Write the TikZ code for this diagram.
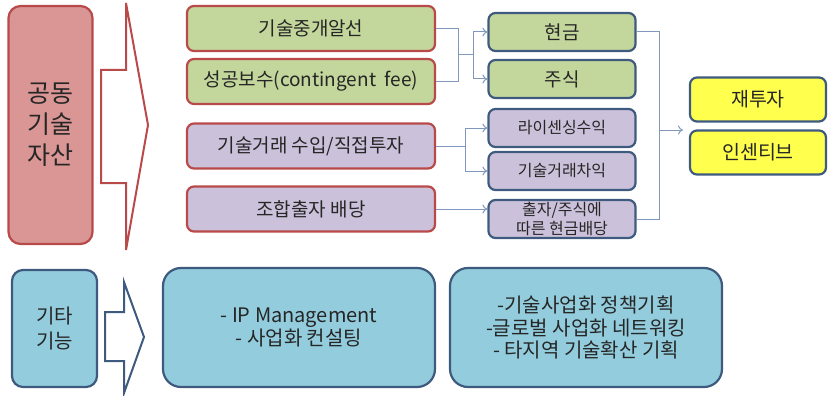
\documentclass[tikz,border=0pt]{standalone}
\usepackage{fontspec}
\setmainfont{Noto Sans CJK KR}
\usetikzlibrary{arrows.meta}
\definecolor{redfill}{HTML}{D99694}
\definecolor{redline}{HTML}{B84A4A}
\definecolor{greenfill}{HTML}{C3D69B}
\definecolor{purplefill}{HTML}{CCC1DA}
\definecolor{blueline}{HTML}{3E5A7E}
\definecolor{yellowfill}{HTML}{FFFF4D}
\definecolor{lightblue}{HTML}{93CDDD}
\definecolor{conn}{HTML}{8098BE}
\tikzset{
  box/.style={draw, line width=2.2pt, rounded corners=7pt, align=center, inner sep=1pt, text=black!85},
  lbox/.style={box, draw=redline, minimum width=248pt, minimum height=45pt, font=\fontsize{19}{21}\selectfont},
  rbox/.style={box, draw=blueline, minimum width=147pt, minimum height=38pt},
  ybox/.style={box, draw=blueline, fill=yellowfill, minimum width=136pt, minimum height=44pt, font=\fontsize{19.5}{21}\selectfont},
  bbox/.style={box, draw=blueline, fill=lightblue, rounded corners=18pt, font=\fontsize{20}{22.5}\selectfont},
  conline/.style={draw=conn, line width=1pt},
  conarrow/.style={conline, -{To[length=5pt,width=9pt]}},
}
\begin{document}
\begin{tikzpicture}[x=1pt,y=-1pt]
\useasboundingbox (0,0) rectangle (828,396);
% left big box
\node[box, draw=redline, fill=redfill, rounded corners=12pt, minimum width=84pt, minimum height=238pt, font=\fontsize{25}{31}\selectfont] (asset) at (50.5,125) {공동\\기술\\자산};
% red block arrow
\draw[draw=redline, line width=2pt, line join=miter] (101,70) -- (126,70) -- (126,3) -- (148,125) -- (126,250) -- (126,183) -- (101,183) -- cycle;
% left boxes
\node[lbox, fill=greenfill] (l1) at (311,28.5) {기술중개알선};
\node[lbox, fill=greenfill] (l2) at (311,81.5) {성공보수(contingent\ \ fee)};
\node[lbox, fill=purplefill] (l3) at (311,146) {기술거래 수입/직접투자};
\node[lbox, fill=purplefill] (l4) at (311,209) {조합출자 배당};
% right boxes
\node[rbox, fill=greenfill, font=\fontsize{19}{21}\selectfont] (r1) at (562,32) {현금};
\node[rbox, fill=greenfill, font=\fontsize{19}{21}\selectfont] (r2) at (562,79) {주식};
\node[rbox, fill=purplefill, font=\fontsize{16}{18}\selectfont] (r3) at (562,128) {라이센싱수익};
\node[rbox, fill=purplefill, font=\fontsize{16}{18}\selectfont] (r4) at (562,171) {기술거래차익};
\node[rbox, fill=purplefill, font=\fontsize{16}{19}\selectfont] (r5) at (562,219) {출자/주식에\\따른 현금배당};
% yellow boxes
\node[ybox] (y1) at (758,99.5) {재투자};
\node[ybox] (y2) at (758,152.5) {인센티브};
% connectors top group
\coordinate (j1) at (458,55);
\coordinate (j2) at (473,55);
\draw[conline] (l1.east) -| (j1);
\draw[conline] (l2.east) -| (j1);
\draw[conline] (j1) -- (j2);
\draw[conarrow] (j2) |- (r1.west);
\draw[conarrow] (j2) |- (r2.west);
% second group
\coordinate (j3) at (465,146);
\draw[conline] (l3.east) -- (j3);
\draw[conarrow] (j3) |- (r3.west);
\draw[conarrow] (j3) |- (r4.west);
% third
\draw[conarrow] (l4.east) -- (r5.west |- l4.east);
% collector
\coordinate (c1) at (659,130);
\draw[conline] (r1.east) -| (c1);
\draw[conline] (r5.east) -| (c1);
\draw[conarrow] (c1) -- (683,130);
% bottom
\node[box, draw=blueline, fill=lightblue, rounded corners=11pt, minimum width=85pt, minimum height=117pt, font=\fontsize{20}{25}\selectfont] (etc) at (54.5,328.5) {기타\\기능};
\draw[draw=blueline, line width=2pt, line join=miter] (105,312) -- (124,312) -- (124,282) -- (144,337) -- (124,393) -- (124,361) -- (105,361) -- cycle;
\node[bbox, minimum width=272pt, minimum height=119pt] (ip) at (299,327.5) {- IP Management\\- 사업화 컨설팅};
\node[bbox, minimum width=272pt, minimum height=119pt] (pol) at (586,327.5) {-기술사업화 정책기획\\-글로벌 사업화 네트워킹\\- 타지역 기술확산 기획};
\end{tikzpicture}
\end{document}
